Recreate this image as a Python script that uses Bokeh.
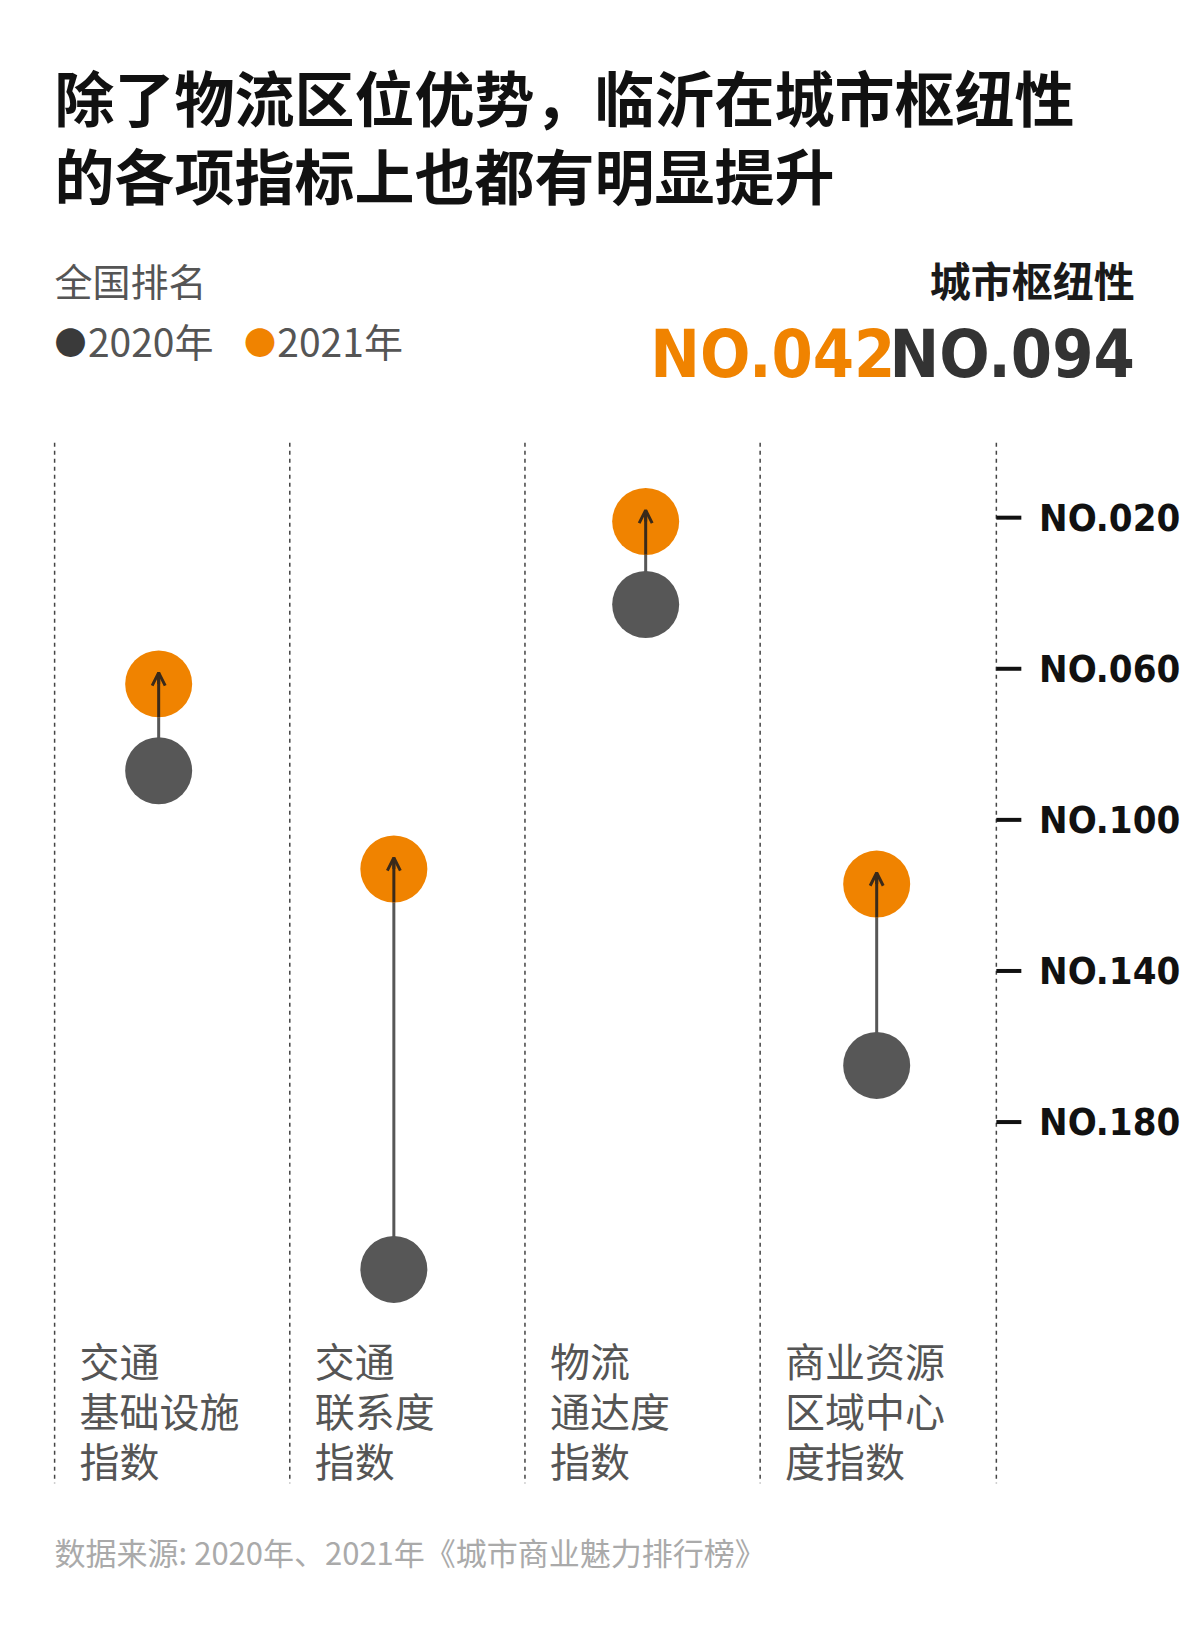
from bokeh.plotting import figure
from bokeh.models import Range1d, Label, Arrow, OpenHead, ColumnDataSource
from bokeh.embed import file_html
from bokeh.resources import INLINE

categories = ["交通\n基础设施\n指数", "交通\n联系度\n指数", "物流\n通达度\n指数", "商业资源\n区域中心\n度指数"]
rank_2020 = [87, 219, 43, 165]
rank_2021 = [64, 113, 21, 117]
tick_ranks = [20, 60, 100, 140, 180]
tick_labels = ["NO.020", "NO.060", "NO.100", "NO.140", "NO.180"]

W, H = 1184, 1612
S = 1.0406
CJK = "Noto Sans CJK SC"
NARROW = "'DejaVu Sans Condensed', 'DejaVu Sans'"
ORANGE = "#F08300"
GRAY = "#575757"

Y0 = 497 * S        # fig pixel of rank 20
PPR = 3.63 * S      # pixels per rank

p = figure(width=W, height=H, output_backend="svg", toolbar_location=None,
           x_range=Range1d(0, W), y_range=Range1d(20 + (H - Y0) / PPR, 20 - Y0 / PPR),
           min_border=0)
p.axis.visible = False
p.grid.visible = False
p.outline_line_color = None

def lab(xs, ys, text, size, color="#1a1a1a", font=CJK, style="normal", align="left", off=0.1):
    p.add_layout(Label(x=xs * S, y=H - (ys * S - off * size), x_units="screen", y_units="screen", text=text,
                       text_font=font, text_font_size=f"{size}px", text_color=color,
                       text_font_style=style, text_align=align, text_baseline="middle"))

lab(52, 97, "除了物流区位优势，临沂在城市枢纽性", 60, "#111111", style="bold")
lab(52, 172, "的各项指标上也都有明显提升", 60, "#111111", style="bold")
lab(52, 272, "全国排名", 38, "#555555")
lab(52, 330, "●", 32, "#3a3a3a")
lab(84, 330, "2020年", 39, "#555555")
lab(234, 330, "●", 32, ORANGE)
lab(266, 330, "2021年", 39, "#555555")
lab(1090, 272, "城市枢纽性", 41, "#1a1a1a", style="bold", align="right")
lab(860, 340, "NO.042", 66, ORANGE, font=NARROW, style="bold", align="right", off=0.0)
lab(1090, 340, "NO.094", 66, "#333333", font=NARROW, style="bold", align="right", off=0.0)
lab(52, 1493, "数据来源: 2020年、2021年《城市商业魅力排行榜》", 31, "#aaaaaa")

col_x = [52 * S, 278 * S, 504 * S, 730 * S, 957 * S]
top_r = 20 + (425 - 497) / 3.63
bot_r = 20 + (1425 - 497) / 3.63
for x in col_x:
    p.segment(x0=x, y0=top_r, x1=x, y1=bot_r, line_color="#444444", line_width=1.5, line_dash="4 4")

p.segment(x0=[957 * S] * 5, y0=tick_ranks, x1=[981 * S] * 5, y1=tick_ranks, line_color="#111111", line_width=4)
for r, t in zip(tick_ranks, tick_labels):
    lab(998, 497 + (r - 20) * 3.63, t, 38, "#111111", font=NARROW, style="bold", off=0.0)

cx = [152 * S, 378 * S, 620 * S, 842 * S]
src = ColumnDataSource(dict(x=cx, r0=rank_2020, r1=rank_2021))
p.segment(x0="x", y0="r0", x1="x", y1="r1", source=src, line_color=GRAY, line_width=3)
p.scatter(x="x", y="r0", source=src, size=67, fill_color=GRAY, line_color=None)
p.scatter(x="x", y="r1", source=src, size=67, fill_color=ORANGE, line_color=None)
p.segment(x0=cx, y0=[r + 8.8 for r in rank_2021], x1=cx, y1=[r - 3 for r in rank_2021],
          line_color="#3a2a1a", line_width=3)
for x, r in zip(cx, rank_2021):
    p.add_layout(Arrow(x_start=x, y_start=r, x_end=x, y_end=r - 3, line_color="#3a2a1a", line_width=3,
                       end=OpenHead(size=13, line_color="#3a2a1a", line_width=3)))

for x, c in zip([52, 278, 504, 730], categories):
    for i, line in enumerate(c.split("\n")):
        lab(x + 24, 1310 + i * 48, line, 40, "#555555")

open("out.html", "w").write(file_html(p, INLINE))
